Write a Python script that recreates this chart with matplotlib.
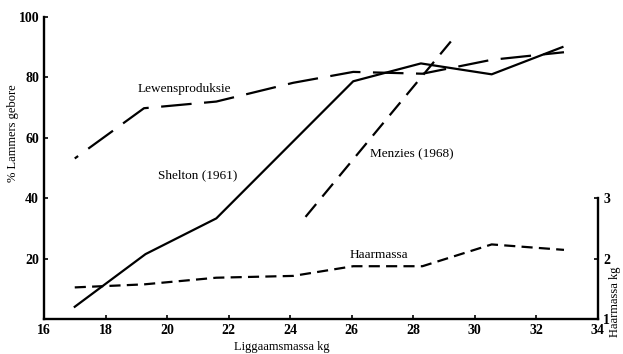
import matplotlib
matplotlib.use("Agg")
import matplotlib.pyplot as plt

# body mass (kg) at which each curve was read
mass = [17.0, 19.25, 21.6, 24.1, 26.05, 28.3, 30.55, 32.9]

# % lambs born, lifetime production
lewens = [53.2, 69.8, 72.0, 78.2, 81.8, 81.2, 85.8, 88.3]

# Shelton (1961)
shelton_mass = [17.0, 19.3, 21.6, 26.05, 28.25, 30.55, 32.85]
shelton = [4.2, 21.6, 33.4, 78.7, 84.6, 81.0, 90.0]

# Menzies (1968), straight regression line
menzies_mass = [24.5, 29.3]
menzies = [33.9, 92.8]

# fleece mass (kg), right-hand scale
haar = [1.53, 1.58, 1.69, 1.72, 1.88, 1.88, 2.24, 2.15]

x_ticks = list(range(16, 35, 2))
y_ticks = [20, 40, 60, 80, 100]
haar_ticks = [1, 2, 3]

plt.rcParams["font.family"] = ["Liberation Serif", "DejaVu Serif"]
plt.rcParams["font.size"] = 10
plt.rcParams["lines.scale_dashes"] = False

fig = plt.figure(figsize=(6.23, 3.54), dpi=100)
ax = fig.add_axes([0.0706, 0.0975, 0.889, 0.855])
ax2 = ax.twinx()

lw = 1.6
ax.plot(mass, lewens, color="black", lw=lw, linestyle=(19, (22, 9)),
        dash_capstyle="butt")
ax.plot(shelton_mass, shelton, color="black", lw=lw)
ax.plot(menzies_mass, menzies, color="black", lw=lw, dashes=(12, 7))
ax2.plot(mass, haar, color="black", lw=lw, dashes=(8, 4.5))

ax.set_xlim(16, 34)
ax.set_ylim(0, 100)
ax2.set_ylim(1, 6)

ax.set_xticks(x_ticks)
ax.set_yticks(y_ticks)
ax2.set_yticks(haar_ticks)

for a in (ax, ax2):
    a.spines["top"].set_visible(False)
    for s in a.spines.values():
        s.set_linewidth(1.7)
ax.spines["right"].set_visible(False)
ax2.spines["left"].set_visible(False)
ax2.spines["bottom"].set_visible(False)
ax2.spines["right"].set_bounds(1, 3)

ax.tick_params(direction="in", length=3, width=1.2, labelsize=10)
ax2.tick_params(direction="in", length=3, width=1.2, labelsize=10, pad=4)
for lab in ax.get_xticklabels() + ax.get_yticklabels() + ax2.get_yticklabels():
    lab.set_fontweight("bold")

ax.set_xlabel("Liggaamsmassa kg", fontsize=9)
ax.xaxis.set_label_coords(0.43, -0.07)

# axis titles placed in figure coordinates
fig.text(13 / 623, 1 - 133 / 354, "% Lammers gebore", rotation=90,
         ha="center", va="center", fontsize=9)
fig.text(615 / 623, 1 - 302 / 354, "Haarmassa kg", rotation=90,
         ha="center", va="center", fontsize=9)

ax.text(20.55, 76, "Lewensproduksie", ha="center", va="center", fontsize=9.5)
ax.text(21.0, 47.7, "Shelton (1961)", ha="center", va="center", fontsize=9.5)
ax.text(27.95, 54.6, "Menzies (1968)", ha="center", va="center", fontsize=9.5)
ax.text(26.9, 21.3, "Haarmassa", ha="center", va="center", fontsize=9.5)

fig.savefig("out.png", dpi=100)
